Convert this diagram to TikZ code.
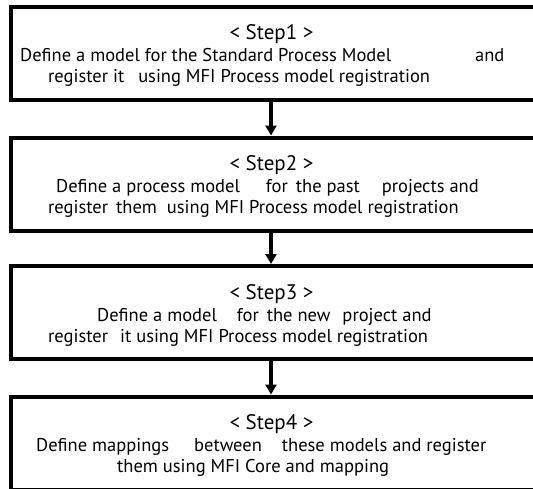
\documentclass[tikz,border=0pt]{standalone}
\usepackage{fontspec}
\setmainfont{PT Sans}
\usetikzlibrary{arrows.meta}
\newcommand\gp[1]{\hspace*{#1pt}}
\begin{document}
\begin{tikzpicture}[x=1pt,y=-1pt,
  stepbox/.style={draw=black, line width=4pt, minimum width=534pt, minimum height=93pt, inner sep=0pt, outer sep=2pt},
  flow/.style={line width=4pt, -{Triangle[length=10pt,width=11pt]}},
  ttl/.style={inner sep=0pt, anchor=base, font=\fontsize{21}{25}\selectfont},
  txt/.style={inner sep=0pt, anchor=base west, font=\fontsize{18.5}{22}\selectfont}]
\useasboundingbox (0,0) rectangle (533,488);
\clip (0,0) rectangle (533,488);
\node[stepbox] (b1) at (278,53) {};
\node[stepbox] (b2) at (278,184) {};
\node[stepbox] (b3) at (278,312.5) {};
\node[stepbox] (b4) at (278,443) {};
\draw[flow] ([xshift=-7pt]b1.south) -- ([xshift=-7pt]b2.north);
\draw[flow] ([xshift=-7pt]b2.south) -- ([xshift=-7pt]b3.north);
\draw[flow] ([xshift=-7pt]b3.south) -- ([xshift=-7pt]b4.north);
% Step 1
\node[ttl] (t1) at (271.5,39.5) {< Step1 >};
\node[txt] (t1a) at (20,61) {Define a model for the Standard Process Model\gp{84}and};
\node[txt] (t1b) at (48,82.5) {register it\gp{14}using MFI Process model registration};
% Step 2
\node[ttl] (t2) at (271.5,170.5) {< Step2 >};
\node[txt] (t2a) at (56,192) {Define a process model\gp{26}for\gp{8}the past\gp{22}projects and};
\node[txt] (t2b) at (48,213.5) {register\gp{8}them\gp{10}using MFI Process model registration};
% Step 3
\node[ttl] (t3) at (271.5,299.5) {< Step3 >};
\node[txt] (t3a) at (97,321) {Define a model\gp{20}for\gp{8}the new\gp{12}project and};
\node[txt] (t3b) at (48,342.5) {register\gp{12}it using MFI Process model registration};
% Step 4
\node[ttl] (t4) at (271.5,429.5) {< Step4 >};
\node[txt] (t4a) at (36,451) {Define mappings\gp{25}between\gp{20}these models and register};
\node[txt] (t4b) at (117,472.5) {them using MFI Core and mapping};
\end{tikzpicture}
\end{document}
